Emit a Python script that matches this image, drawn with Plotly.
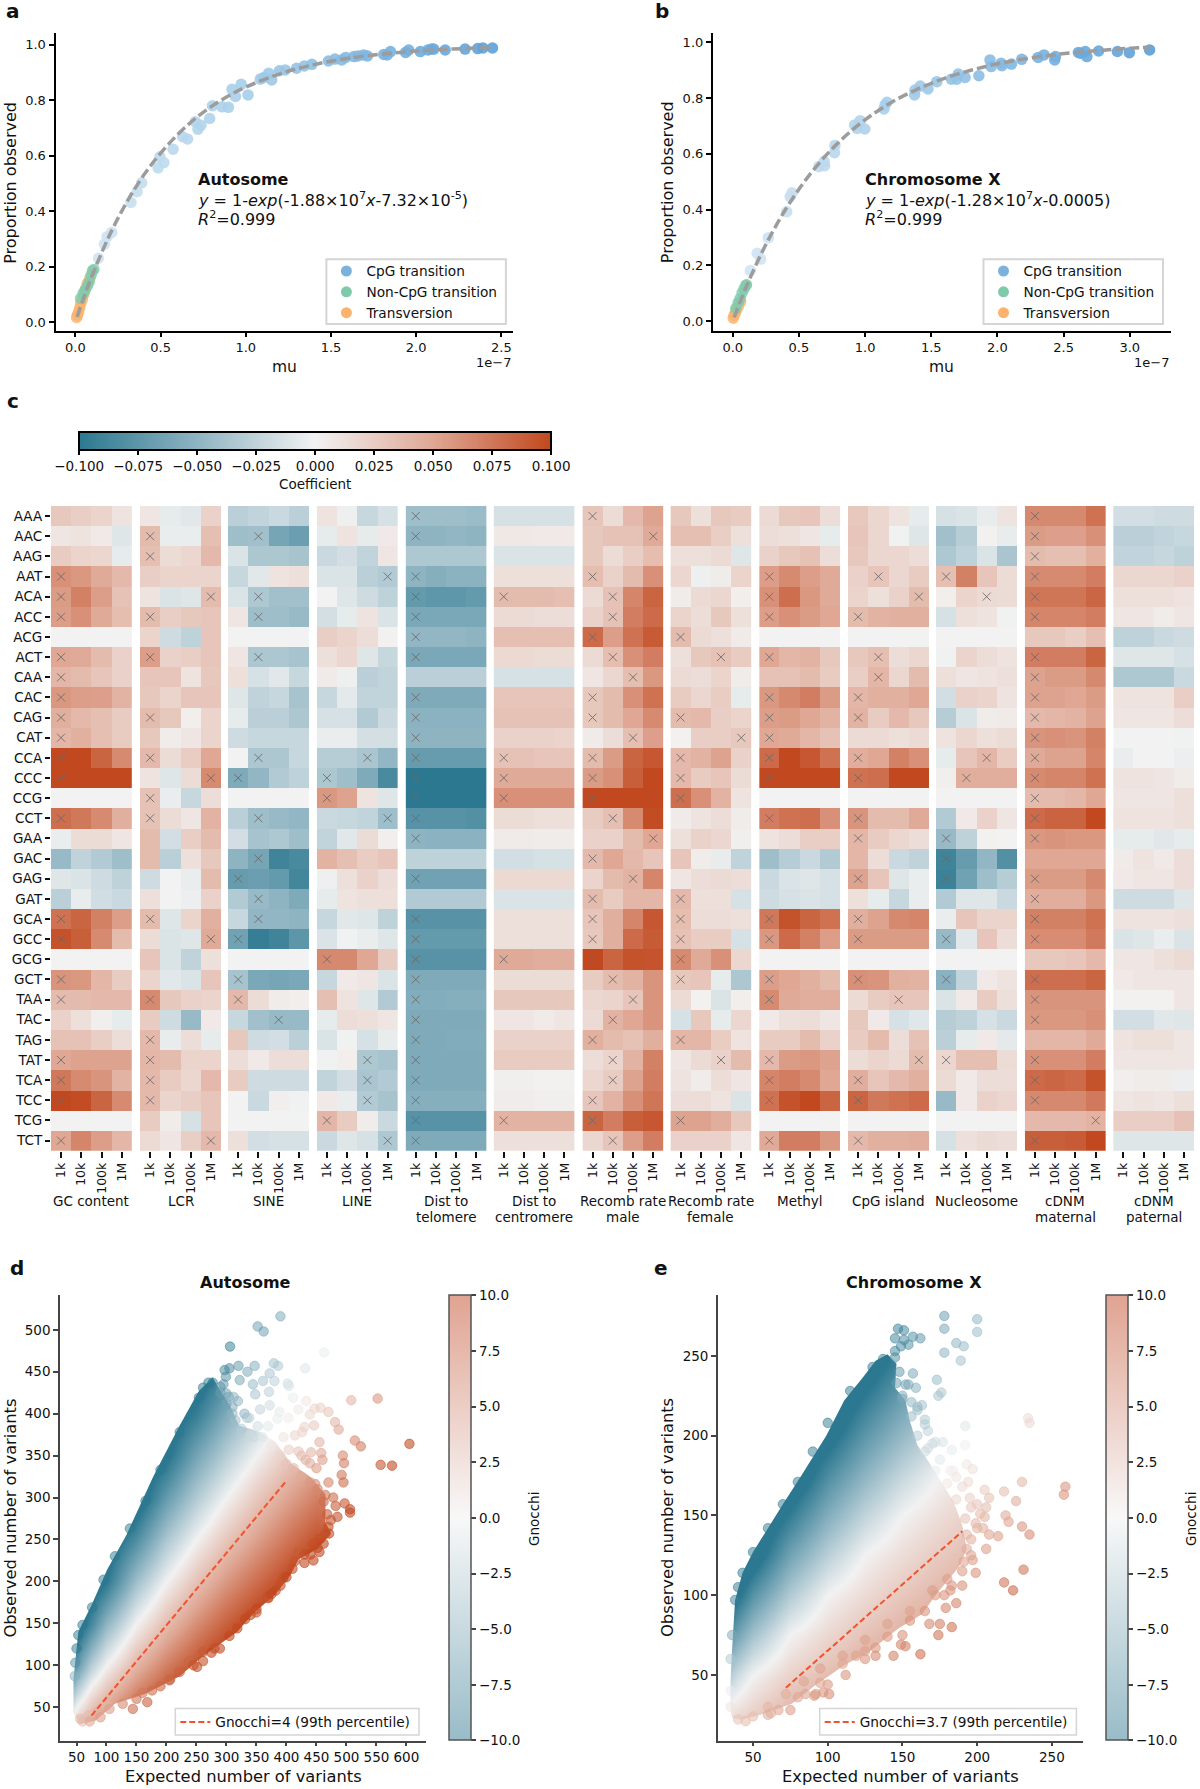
import plotly.graph_objects as go

W, H = 1200, 1789
FONT = "DejaVu Sans"
def fx(p): return p / W
def fy(p): return 1 - p / H

# ---------- panel a ----------
A_CPG_MU = [.135,.17,.186,.213,.326,.362,.389,.485,.519,.496,.573,.629,.658,.703,.719,.737,.788,.804,.86,.898,.919,.939,.973,1.013,1.085,1.107,1.134,1.152,1.197,1.231,1.298,1.343,1.388,1.485,1.523,1.563,1.586,1.635,1.658,1.691,1.714,1.81,1.83,1.849,1.938,1.956,2.024,2.069,2.091,2.103,2.17,2.287,2.361,2.392,2.448]
A_CPG_P = [.23,.281,.308,.323,.431,.47,.502,.556,.575,.596,.623,.668,.66,.722,.695,.71,.734,.78,.776,.774,.839,.813,.857,.819,.876,.882,.897,.873,.906,.909,.915,.923,.929,.941,.948,.945,.954,.957,.959,.963,.959,.965,.963,.975,.972,.981,.975,.981,.984,.984,.981,.984,.986,.988,.988]
A_NON_MU = [.03,.045,.056,.07,.081,.092,.108,.1]
A_NON_P = [.085,.103,.115,.13,.145,.169,.19,.185]
A_TV_MU = [.007,.012,.018,.025,.03,.04,.05,.06,.07,.085]
A_TV_P = [.017,.025,.035,.05,.065,.08,.1,.12,.14,.158]
A_FIT_MU = [.01,.05,.1,.2,.3,.4,.5,.6,.7,.8,.9,1.0,1.2,1.4,1.6,1.8,2.0,2.2,2.45]
A_FIT_P = [.019,.09,.171,.313,.431,.529,.609,.676,.732,.778,.816,.847,.895,.928,.951,.966,.977,.984,.990]

# ---------- panel b ----------
B_CPG_MU = [.133,.185,.211,.269,.408,.434,.448,.651,.694,.691,.769,.772,.92,.94,.963,.998,1.143,1.151,1.166,1.377,1.374,1.417,1.475,1.542,1.652,1.692,1.704,1.756,1.86,1.944,1.953,2.028,2.034,2.106,2.184,2.308,2.352,2.433,2.439,2.612,2.627,2.664,2.676,2.765,2.907,2.997,3.15]
B_CPG_P = [.181,.243,.222,.299,.392,.446,.46,.554,.557,.572,.604,.63,.703,.691,.719,.689,.761,.775,.785,.829,.811,.843,.833,.859,.868,.868,.886,.874,.88,.937,.913,.925,.916,.922,.939,.946,.955,.937,.949,.964,.961,.967,.949,.969,.967,.963,.973]
B_NON_MU = [.023,.04,.055,.07,.085,.1,.104]
B_NON_P = [.045,.065,.08,.1,.115,.128,.13]
B_TV_MU = [.004,.01,.02,.03,.045,.06]
B_TV_P = [.01,.02,.03,.04,.055,.07]
B_FIT_MU = [.01,.1,.2,.3,.4,.5,.6,.7,.8,.9,1.0,1.2,1.4,1.6,1.8,2.0,2.2,2.4,2.6,2.8,3.0,3.15]
B_FIT_P = [.013,.12,.226,.319,.401,.473,.536,.592,.641,.684,.722,.785,.833,.871,.9,.923,.94,.954,.964,.972,.979,.982]

# ---------- panel c (coefficients in units of 0.001) ----------
CONTEXTS = "AAA AAC AAG AAT ACA ACC ACG ACT CAA CAC CAG CAT CCA CCC CCG CCT GAA GAC GAG GAT GCA GCC GCG GCT TAA TAC TAG TAT TCA TCC TCG TCT".split()
SCALES = ["1k", "10k", "100k", "1M"]
GROUP_NAMES = [["GC content"],["LCR"],["SINE"],["LINE"],["Dist to","telomere"],["Dist to","centromere"],["Recomb rate","male"],["Recomb rate","female"],["Methyl"],["CpG island"],["Nucleosome"],["cDNM","maternal"],["cDNM","paternal"]]

GC_CONTENT = [[28,24,20,10],[8,10,6,-10],[26,20,18,-6],[62,58,48,38],[56,70,55,32],[55,62,48,35],[0,0,0,0],[50,48,36,22],[40,36,30,22],[58,55,54,42],[45,38,34,26],[40,44,34,26],[100,100,85,65],[100,100,100,100],[0,0,0,0],[80,75,65,45],[-4,15,15,8],[-45,-25,-32,-42],[-10,-12,-18,-26],[-28,-5,-17,-20],[78,85,70,55],[95,88,65,36],[0,0,0,0],[60,58,40,26],[36,36,38,38],[22,12,2,-6],[32,32,24,14],[50,52,52,52],[75,65,60,42],[100,98,85,65],[0,0,0,0],[50,68,55,40]]
LCR = [[8,-6,-8,22],[36,-4,-4,34],[34,15,18,38],[24,20,20,20],[10,-12,-10,36],[36,24,28,30],[20,-18,-26,30],[55,22,24,30],[30,30,10,28],[28,20,30,30],[36,28,3,20],[28,4,8,20],[38,15,25,50],[10,-10,15,65],[32,-4,-22,14],[32,15,8,42],[36,-16,24,36],[36,-28,12,28],[-18,0,-4,36],[12,0,-3,22],[36,-10,20,44],[15,-12,-10,48],[30,-12,-25,12],[20,-8,-12,30],[65,28,22,20],[26,-18,-45,6],[38,-5,14,-6],[40,36,20,20],[38,26,18,38],[38,20,24,30],[26,4,-14,30],[16,8,24,38]]
SINE = [[-28,-24,-20,-28],[-42,-40,-62,-68],[-12,-35,-35,-38],[-22,-8,10,12],[-12,-34,-40,-40],[8,-42,-42,-45],[0,0,0,0],[8,-35,-35,-38],[12,-14,-8,-22],[-10,-25,-22,-38],[-6,-28,-28,-35],[-18,-22,-22,-22],[0,-35,-35,-22],[-58,-48,-32,-26],[0,0,0,0],[-28,-42,-45,-48],[-16,-38,-34,-42],[-50,-62,-90,-85],[-70,-68,-72,-88],[-32,-45,-50,-58],[-22,-48,-48,-50],[-65,-95,-90,-75],[0,0,0,0],[-38,-60,-62,-60],[38,15,4,3],[-22,-40,-45,-45],[28,-18,-16,-28],[14,6,14,14],[26,-18,-18,-18],[0,-20,2,-1],[0,0,0,0],[12,-16,-14,-14]]
LINE = [[10,-2,-22,-14],[-6,10,-6,6],[-20,-16,-24,8],[-12,-12,-28,-32],[0,-10,-18,-26],[-15,-6,10,-12],[24,20,14,1],[12,18,-10,-22],[5,-2,-28,-24],[-22,-7,-24,-24],[-14,-14,-32,-20],[-4,-4,-15,-15],[-30,-30,-36,-48],[-35,-42,-58,-85],[58,52,10,-10],[-20,-22,-24,-42],[-24,-8,15,3],[42,34,25,30],[-2,12,22,14],[-6,10,12,12],[-22,-8,-10,-26],[-12,-1,-4,-10],[66,66,50,26],[-22,6,8,-12],[34,10,-10,-32],[-6,14,12,8],[-12,-1,-14,-5],[-1,3,-34,-38],[-24,-16,-36,-32],[6,-4,-32,-38],[40,26,4,-20],[-20,-10,-14,-34]]
DIST_TELOMERE = [[-42,-42,-42,-44],[-50,-50,-48,-50],[-34,-34,-34,-34],[-50,-54,-52,-52],[-72,-74,-74,-72],[-60,-60,-60,-60],[-48,-48,-48,-50],[-60,-60,-60,-60],[-28,-28,-28,-28],[-58,-58,-58,-58],[-52,-52,-52,-52],[-50,-50,-50,-50],[-70,-70,-70,-70],[-100,-100,-100,-100],[-100,-100,-100,-100],[-78,-78,-78,-80],[-50,-52,-52,-52],[-26,-26,-26,-26],[-65,-65,-65,-65],[-32,-32,-32,-32],[-78,-78,-78,-78],[-72,-72,-72,-72],[-78,-78,-78,-78],[-58,-58,-58,-58],[-56,-56,-54,-54],[-58,-58,-58,-58],[-58,-58,-57,-57],[-58,-58,-58,-58],[-58,-58,-58,-58],[-54,-54,-54,-54],[-78,-78,-78,-78],[-58,-58,-58,-58]]
DIST_CENTROMERE = [[-14,-14,-14,-14],[7,7,6,6],[-12,-12,-12,-12],[12,12,12,12],[36,36,36,34],[16,16,14,14],[34,34,34,34],[17,17,15,15],[-14,-14,-14,-14],[30,30,30,30],[32,32,32,32],[22,22,22,20],[32,32,30,30],[48,48,48,48],[62,62,62,62],[15,15,13,13],[5,5,4,4],[-16,-16,-14,-14],[17,17,17,17],[-12,-12,-12,-12],[12,12,12,12],[12,12,12,12],[48,48,46,46],[15,15,15,15],[28,28,28,28],[8,8,5,8],[22,22,22,22],[26,26,26,26],[2,2,1,1],[4,4,2,2],[42,42,42,42],[12,12,12,12]]
RECOMB_MALE = [[30,15,38,52],[28,32,32,48],[28,15,24,35],[35,22,36,62],[16,32,68,85],[22,32,72,82],[82,55,78,90],[16,35,62,72],[8,18,35,58],[28,36,62,78],[28,36,50,65],[5,14,34,54],[36,56,85,92],[56,62,88,100],[100,100,100,100],[26,34,65,98],[22,22,36,50],[38,50,38,30],[20,36,42,68],[36,26,40,40],[30,45,68,92],[28,45,82,90],[100,85,95,94],[26,36,42,60],[18,20,30,60],[16,42,50,60],[44,36,32,45],[14,20,42,70],[18,26,52,72],[30,42,62,76],[85,72,88,92],[18,30,55,72]]
RECOMB_FEMALE = [[28,12,28,26],[34,34,24,12],[12,12,16,-10],[18,-2,4,20],[4,16,18,3],[20,14,28,12],[36,16,12,5],[12,28,32,26],[16,14,20,4],[26,18,25,-6],[36,38,24,20],[1,24,24,28],[38,42,52,22],[38,26,30,15],[80,62,42,10],[5,10,14,4],[12,22,18,2],[30,4,-5,-25],[8,14,16,14],[38,12,12,-14],[35,14,14,12],[32,25,25,-14],[65,48,62,18],[28,30,-6,-35],[16,1,-12,3],[-14,28,-6,18],[40,40,25,10],[8,16,22,36],[10,4,14,8],[14,14,10,-12],[52,52,46,28],[22,22,22,8]]
METHYL = [[16,28,30,14],[14,12,8,-6],[22,28,32,14],[55,65,55,48],[62,80,58,48],[55,62,56,50],[0,0,0,0],[50,40,42,28],[32,32,36,26],[58,66,72,56],[55,56,50,42],[50,48,40,32],[82,100,92,78],[100,100,100,100],[0,0,0,0],[72,78,80,62],[10,14,24,24],[-42,-30,-20,-32],[-20,-12,-10,-14],[-18,-14,-12,-14],[75,95,85,78],[58,82,70,55],[0,0,0,0],[55,50,44,36],[65,48,46,46],[6,12,14,8],[26,26,36,22],[38,56,58,52],[68,72,65,50],[78,95,100,85],[0,0,0,0],[48,72,72,58]]
CPG_ISLAND = [[28,18,10,-6],[30,18,-1,-10],[28,18,18,14],[22,30,18,26],[20,12,22,36],[36,42,44,44],[0,0,0,0],[28,34,14,18],[24,40,18,36],[40,44,44,50],[42,26,38,28],[16,16,12,16],[46,50,70,62],[78,80,100,100],[0,0,0,0],[60,36,36,48],[40,26,18,14],[40,14,-20,-25],[52,30,-10,-4],[12,-6,-22,-4],[45,52,66,68],[56,56,56,56],[0,0,0,0],[62,60,44,42],[16,26,30,30],[28,6,-14,-9],[26,36,14,32],[15,20,16,36],[46,30,38,44],[85,75,78,82],[0,0,0,0],[38,44,44,46]]
NUCLEOSOME = [[-14,-12,-5,10],[-40,-30,1,-5],[-34,-26,-12,-36],[34,70,30,15],[3,20,16,15],[-14,12,10,-1],[0,0,0,0],[-1,20,14,10],[12,8,10,12],[-16,22,20,10],[-30,-12,4,5],[10,18,12,15],[-6,30,40,25],[2,46,46,46],[0,0,0,0],[-32,6,22,8],[-45,-26,1,0],[-90,-70,-48,-80],[-92,-65,-42,-30],[-32,-10,-10,-20],[-4,30,20,20],[-45,-8,30,14],[0,0,0,0],[-52,-24,6,10],[-12,6,26,12],[-30,-26,-14,-20],[-28,-6,6,-7],[18,34,34,15],[16,6,14,14],[-45,6,22,18],[0,0,0,0],[-14,12,16,14]]
CDNM_MATERNAL = [[66,66,66,78],[56,54,54,62],[36,34,34,44],[65,65,65,72],[76,76,76,84],[68,68,68,72],[28,28,24,34],[72,72,72,85],[52,56,56,66],[52,52,50,56],[38,40,42,52],[60,62,60,70],[48,52,52,68],[65,68,68,78],[36,36,40,50],[82,86,86,100],[58,60,58,58],[50,50,50,50],[56,56,56,66],[46,46,46,58],[70,70,70,78],[64,64,64,74],[28,28,30,38],[80,80,80,85],[60,60,60,60],[58,58,58,62],[40,40,40,48],[62,62,62,72],[82,84,82,95],[66,66,66,74],[38,38,38,42],[88,88,90,100]]
CDNM_PATERNAL = [[-16,-16,-18,-18],[-28,-28,-24,-22],[-24,-24,-22,-26],[18,18,18,22],[12,12,12,10],[8,8,4,8],[-26,-26,-20,-18],[-10,-10,-10,-14],[-34,-34,-34,-20],[10,10,10,24],[8,8,8,14],[0,0,0,-1],[-4,0,0,-3],[10,10,8,4],[8,8,8,12],[10,10,10,12],[-6,-6,-8,-6],[5,10,6,14],[6,8,8,14],[-18,-18,-18,-10],[10,10,10,12],[-12,-10,-4,-12],[8,8,12,16],[6,8,8,8],[1,1,1,8],[-16,-16,-8,-10],[10,12,12,8],[8,8,8,8],[2,4,4,-3],[8,10,8,12],[24,24,24,32],[-10,-10,-10,-10]]

GROUP_VALUES = [GC_CONTENT, LCR, SINE, LINE, DIST_TELOMERE, DIST_CENTROMERE, RECOMB_MALE, RECOMB_FEMALE, METHYL, CPG_ISLAND, NUCLEOSOME, CDNM_MATERNAL, CDNM_PATERNAL]

# significance marks per group: scale index -> contexts
GROUP_MARKS = [
 {0:"AAT ACA ACC ACT CAA CAC CAG CAT CCA CCC CCT GCA GCC GCT TAA TAT TCA TCC TCT"},
 {0:"AAC AAG ACC ACT CAG CCA CCG CCT GCA TAA TAG TAT TCA TCC", 3:"ACA CCC GCC TCT"},
 {0:"CCC GAG GCC GCT TAA", 1:"AAC ACA ACC ACT CCA CCT GAC GAT GCA", 2:"TAC"},
 {0:"CCC CCG GCG TCG", 2:"CCA TAT TCA TCC", 3:"AAT CCT TCT"},
 {0:"AAA AAC AAT ACA ACC ACG ACT CAC CAG CAT CCA CCC CCG CCT GAA GAG GCA GCC GCG GCT TAA TAC TAG TAT TCA TCC TCG TCT"},
 {0:"ACA CCA CCC CCG GCG TCG"},
 {0:"AAA AAT ACG CAC CAG CCA CCC CCG GAC GAT GCA GCC GCG TAG TCC TCG", 1:"ACA ACC ACT CCT GCT TAC TAT TCA TCT", 2:"CAA CAT GAG TAA", 3:"AAC GAA"},
 {0:"ACG CAG CCA CCC CCG GAT GCA GCC GCG GCT TAG TCG", 2:"ACT TAT", 3:"CAT"},
 {0:"AAT ACA ACC ACT CAC CAG CAT CCA CCC CCT GCA GCC GCT TAA TAT TCA TCC TCT"},
 {0:"ACC CAC CAG CCA CCC CCT GAA GAG GCA GCC GCT TCA TCC TCT", 1:"AAT ACT CAA", 2:"TAA", 3:"ACA TAT"},
 {0:"AAT GAA GAC GAG GCC GCT TAT", 1:"CCC", 2:"ACA CCA"},
 {0:"AAA AAC AAG AAT ACA ACC ACT CAA CAC CAG CAT CCA CCC CCG CCT GAA GAG GAT GCA GCC GCT TAA TAC TAT TCA TCC TCT", 3:"TCG"},
 {},
]
GROUP_LEFT = [50.9,140,228,316.8,405.6,493.6,582.4,670.4,759.2,848,936,1024.8,1113.2]

# ---------- panel d ----------
D_GRID_E = [30,50,75,100,150,200,250,300,350,400,450]
D_GRID_O = [25,50,75,100,150,200,250,300,350,400,450]
D_GRID_G = [
 [0.9,3.5,5.8,7.5,10.2,10.6,11.5,12,12,12,12],
 [-3.7,0,2.9,5,8.2,10.6,11,12,12,12,12],
 [-8.2,-3.5,0,2.5,6.1,8.8,11,12,12,12,12],
 [-12,-7.1,-2.9,0,4.1,7.1,9.5,11.5,12,12,12],
 [-12,-12,-8.7,-5,0,3.5,6.3,8.7,10.7,12,12],
 [-12,-12,-12,-10,-4.1,0,3.2,5.8,8,10,11.8],
 [-12,-12,-12,-12,-8.2,-3.5,0,2.9,5.3,7.5,9.4],
 [-12,-12,-12,-12,-12,-7.1,-3.2,0,2.7,5,7],
 [-12,-12,-12,-12,-12,-10.6,-6.3,-2.9,0,2.5,4.7],
 [-12,-12,-12,-12,-12,-12,-9.5,-5.8,-2.7,0,2.4],
 [-12,-12,-12,-12,-12,-12,-12,-8.7,-5.3,-2.5,0],
]
D_EDGE_E = [45,53,76,101,133,178,222,254,277,287,305,321,356,382,407,439,465,465,474,452,420,407,382,344,318,261,222,165,114,82,56,44,45]
D_EDGE_O = [83,140,173,214,255,325,386,427,443,431,411,386,378,366,341,325,304,271,257,239,226,208,185,161,140,111,87,66,54,34,30,44,48]
D_E = [390,352,362,306,297,305,320,347,335,379,386,372,299,322,344,361,380,371,348,402,404,431,463,411,319,304,372,356,334,388,385,403,315,369,
       433,420,447,457,470,508,552,439,481,487,430,446,426,414,455,514,524,605,557,576,441,458,460,425,494,496,439,492,495,404,497,506,506,482,485,474,465,448,471,465,457,452,
       420,414,395,382,369,350,331,318,289,280,261,261,251,238,222,206,190,176,168,160,144,127,
       47,48,50,53,60,76,95,114,139,165,190,222,254,277,270,261,290,300,310,330,345,
       60,56,70,85,100,350,370,390,410,430,445,
       290,300,310,325,340,360,375,390,400,412,425,440,452,462,468,470,455,440,430,400,375,340,305,275,245,205,150,105,90,72,
       295,312,338,352,395,420,432,450,470,478,462,445]
D_O = [516,504,498,480,452,454,457,457,450,460,457,448,444,440,435,439,439,426,423,436,433,454,473,419,415,420,410,405,395,402,394,395,392,385,
       415,405,406,407,402,416,418,399,390,381,384,386,378,374,366,368,361,364,339,338,354,353,345,350,350,341,341,327,318,357,293,286,282,290,277,273,303,316,257,257,251,240,
       234,224,204,189,181,167,155,144,120,120,116,105,98,105,92,83,75,70,56,67,48,54,
       87,103,120,136,148,169,202,230,263,296,333,378,419,437,437,431,432,424,408,400,372,
       33,36,40,44,52,163,180,195,215,232,245,
       425,412,400,382,376,372,362,350,340,335,325,318,310,295,280,265,235,232,222,205,185,160,135,115,100,82,60,48,38,33,
       435,420,395,385,372,355,345,335,318,300,245,225]
D_G = [-6.4,-7,-7.2,-10,-9,-9,-7.6,-5.9,-6.3,-4.2,-3.6,-3.9,-8.4,-6.6,-4.9,-4.1,-3,-2.9,-4,-1.7,-1.4,-1.1,-.5,-.4,-5.4,-6.7,-2,-2.6,-3.3,-.7,-.4,.4,-4.2,-.8,
       .9,.7,1.9,2.3,3.1,4.1,5.7,1.9,4.1,4.8,2.2,2.8,2.3,2,4.2,6.4,7.1,9.8,9.2,9.9,4.1,4.9,5.4,3.6,6.5,7,4.6,7.4,8,2.4,9.1,9.8,10,8.7,9.4,9.2,7.5,6.2,9.9,9.6,9.7,10,
       9,9.3,9.6,9.9,9.8,10,10,10,10,9.6,9,9.6,9.6,8.5,8.7,8.5,8.3,8,8.6,7.4,8,6.5,
       -5.4,-8,-10,-11,-11,-10.7,-11,-11,-10.5,-10.2,-10.4,-10.5,-10.3,-9.6,-10,-10.5,-8,-7,-6,-5.5,-2,
       3.5,3.6,3.6,4.4,4,9.5,9.5,9.7,9.7,9.6,9.7,
       -7,-6.5,-5,-3.2,-2,-1,.7,2,3,3.8,4.8,5.7,6.7,8,8.9,9.7,10,10,10,10,10,10,10,10,9.5,8.5,7.5,5.5,5.5,4.8,
       -7.5,-5.3,-3,-1.8,1,3.2,4.2,5.5,6.7,8,10,10]
D_LINE_E = [75,400]
D_LINE_O = [40,320]

# ---------- panel e ----------
E_GRID_E = [30,40,50,75,100,125,150,175,200]
E_GRID_O = [15,25,50,75,100,125,150,175,200,225,250,275]
E_GRID_G = [
 [1.8,3,3.2,4.4,5.4,6,6.5,7,7.5],
 [.6,1.5,2.2,3.7,4.8,5.7,6,6.6,7],
 [-3.7,-1.6,0,1.9,3.2,4.3,5.2,5.8,6.4],
 [-8.2,-5.6,-3.5,0,1.6,2.9,3.9,4.8,5.6],
 [-12,-9.5,-7,-2.9,0,1.4,2.6,3.6,4.6],
 [-12,-12,-10.6,-5.8,-2.5,0,1.3,2.4,3.4],
 [-12,-12,-12,-8.7,-5,-2.2,0,1.2,2.2],
 [-12,-12,-12,-11.5,-7.5,-4.5,-2,0,1.1],
 [-12,-12,-12,-12,-10,-6.7,-4.1,-1.9,0],
 [-12,-12,-12,-12,-12,-8.9,-6.1,-3.8,-1.8],
 [-12,-12,-12,-12,-12,-11,-8.2,-5.7,-3.5],
 [-12,-12,-12,-12,-12,-12,-10,-7.6,-5.3],
]
E_EDGE_E = [35,36,38,43,50,60,70,83,99,111,124,132,140,146,145,152,155,160,168,178,184,190,193,188,173,163,147,127,111,91,76,55,42,36,35]
E_EDGE_O = [47,66,97,114,127,142,157,176,200,222,237,247,251,245,230,222,209,194,183,168,159,144,129,118,101,88,79,64,56,43,32,25,22,23,28]
E_E = [178,200,200,178,147,151,145,151,157,162,154,149,145,145,186,191,178,189,173,176,174,157,152,159,146,163,160,156,150,165,167,192,192,167,172,177,183,
       234,235,193,197,184,186,194,230,259,258,205,218,208,226,195,200,206,202,205,219,221,199,204,208,214,230,235,206,193,193,199,231,218,224,191,183,182,190,186,179,175,183,174,162,152,149,144,132,125,119,101,97,91,100,85,75,45,62,67,
       35,35,35,36,38,40,43,50,60,70,80,90,100,115,130,137,
       40,50,60,72,84,95,110,125,140,155,170,
       148,150,156,160,165,172,180,186,192,196,196,190,180,172,165,155,140,125,110,95,80,60,
       154,160,165,170,175,182,190,196,200,197,178,168,150,132,112,92]
E_O = [275,273,265,267,267,266,261,260,262,261,257,256,253,249,258,256,252,247,235,227,225,239,232,230,233,219,216,221,223,210,203,206,194,192,196,196,191,
       211,208,182,179,178,174,171,171,168,163,166,165,161,159,161,157,155,151,149,150,146,145,142,138,137,143,138,129,138,129,114,116,108,103,121,106,103,106,95,92,82,80,75,63,68,69,62,67,60,62,38,39,37,44,38,28,21,26,28,
       30,40,60,75,97,105,114,127,142,157,171,190,208,228,243,248,
       22,24,30,38,46,54,62,72,82,90,103,
       240,225,212,200,190,178,170,160,148,135,125,115,110,100,90,84,74,65,57,45,36,25,
       232,218,207,195,185,178,168,155,142,122,100,82,75,62,50,38]
E_G = [-7.3,-5.2,-4.6,-6.7,-9.9,-9.4,-9.5,-8.8,-8.5,-7.8,-8.5,-8.8,-9,-8.6,-5.3,-4.7,-5.6,-4.2,-4.7,-3.8,-3.9,-6.5,-6.5,-5.6,-7.2,-4.4,-4.4,-5.2,-6,-3.5,-2.8,-1,-.2,-1.9,-1.8,-1.4,-.6,
       1.5,1.8,.8,1.3,.4,.9,1.7,3.9,5.7,5.9,2.7,3.6,3.3,4.5,2.4,3,3.6,3.6,3.9,4.7,5,3.8,4.3,4.9,5.3,5.7,6.3,5.3,3.9,4.6,6,7.5,7.5,8.1,5,5.7,5.9,6.1,6.7,6.5,7,7.6,7.5,7.8,6.8,6.6,6.8,5.7,5.8,5.2,6.3,5.9,5.7,5.6,5.1,5.4,3.6,4.6,4.8,
       1,-.5,-3.5,-6,-9.5,-10,-10,-10,-10.5,-10.5,-10.5,-11,-11,-11,-10,-10,
       3,3.5,4,4.5,5,5.2,5.2,5.2,5.2,5.2,5.5,
       -7.6,-6.1,-4.5,-3.2,-1.9,-.5,.8,2,3.2,4.3,5,5.5,5.4,5.5,6,6,5.6,5.3,5,5,4.9,4.5,
       -6.3,-4.6,-3.3,-1.9,-.8,.3,1.6,3,4.1,5.3,5.9,6.5,6,6.3,5.8,5.6]
E_LINE_E = [72,190]
E_LINE_O = [42,140]

# ---------- styles ----------
COLORSCALE = [[0,'#2c7890'],[.25,'#8eb4c2'],[.5,'#f2f2f2'],[.75,'#dfa794'],[1,'#c1481f']]
BAR_LIGHT = [[0,'#98bcc8'],[.5,'#f8f8f8'],[1,'#e0a391']]
MARK_SCALE = [[0,'rgba(44,120,144,.5)'],[.25,'rgba(142,180,194,.5)'],[.5,'rgba(242,242,242,.5)'],[.75,'rgba(223,167,148,.6)'],[1,'rgba(193,72,31,.6)']]
CPG_SCALE = [[0,'#d6e7f4'],[.4,'#a5cde9'],[.7,'#7db5e0'],[1,'#5a9ed7']]
GREEN, ORANGE, LEG_BLUE = '#7fcaab', '#fbb26c', '#7ab2dc'
GRAY_FIT = '#9c9c9c'

traces = []
layout = dict(width=W, height=H, margin=dict(l=0, r=0, t=0, b=0), paper_bgcolor='white', plot_bgcolor='white',
              font=dict(family=FONT, size=13.5, color='#111'), showlegend=True, annotations=[], shapes=[])

def add_axes(n, left, right, top, bottom, xr, yr, spine=2, spcol='black', tick=13, **kw):
    sx = '' if n == 1 else str(n)
    ax = dict(domain=[fx(left), fx(right)], range=xr, anchor='y' + sx, showgrid=False, zeroline=False, showline=True,
              linewidth=spine, linecolor=spcol, ticks='outside', ticklen=4, tickwidth=1.5, tickcolor=spcol, tickfont=dict(size=tick))
    ay = dict(domain=[fy(bottom), fy(top)], range=yr, anchor='x' + sx, showgrid=False, zeroline=False, showline=True,
              linewidth=spine, linecolor=spcol, ticks='outside', ticklen=5, tickwidth=1.5, tickcolor=spcol, tickfont=dict(size=tick))
    ax.update(kw.get('x', {})); ay.update(kw.get('y', {}))
    layout['xaxis' + sx] = ax; layout['yaxis' + sx] = ay
    return 'x' + sx, 'y' + sx

def note(text, px, py, size=13.5, angle=0, anchor='center', **kw):
    layout['annotations'].append(dict(text=text, xref='paper', yref='paper', x=fx(px), y=fy(py), showarrow=False,
        xanchor=anchor, yanchor='middle', textangle=angle, font=dict(size=size, family=FONT, color='#111'), **kw))

def legend_box(legname, left, right, top, bottom, text_top, lw):
    layout['shapes'].append(dict(type='rect', xref='paper', yref='paper', x0=fx(left), x1=fx(right), y0=fy(bottom), y1=fy(top),
                                 line=dict(color='#d5d5d5', width=lw), fillcolor='rgba(255,255,255,.85)'))
    layout[legname] = dict(x=fx(left), y=fy(text_top), xanchor='left', yanchor='top', borderwidth=0,
                           bgcolor='rgba(0,0,0,0)', font=dict(size=13.7), itemwidth=30)

def mu_panel(n, left, right, xr, yr, xtv, cpg_x, cpg_y, non_x, non_y, tv_x, tv_y, fit_x, fit_y, legname, leg_left, leg_right, cmax):
    xa, ya = add_axes(n, left, right, 33.3, 330.7, xr, yr, x=dict(tickvals=xtv, tickformat='.1f'), y=dict(tickvals=[0,.2,.4,.6,.8,1.0], tickformat='.1f'))
    traces.append(go.Scatter(x=cpg_x, y=cpg_y, xaxis=xa, yaxis=ya, mode='markers', showlegend=False, hoverinfo='skip',
        marker=dict(size=11.5, color=cpg_x, colorscale=CPG_SCALE, cmin=0, cmax=cmax, opacity=.9)))
    traces.append(go.Scatter(x=tv_x, y=tv_y, xaxis=xa, yaxis=ya, mode='markers', showlegend=False, hoverinfo='skip',
        marker=dict(size=11.5, color=ORANGE, opacity=.8)))
    traces.append(go.Scatter(x=non_x, y=non_y, xaxis=xa, yaxis=ya, mode='markers', showlegend=False, hoverinfo='skip',
        marker=dict(size=11.5, color=GREEN, opacity=.8)))
    traces.append(go.Scatter(x=fit_x, y=fit_y, xaxis=xa, yaxis=ya, mode='lines', showlegend=False, hoverinfo='skip',
        line=dict(color=GRAY_FIT, width=3.5, dash='10px,4px', shape='spline')))
    for name, col in [('CpG transition', LEG_BLUE), ('Non-CpG transition', GREEN), ('Transversion', ORANGE)]:
        traces.append(go.Scatter(x=[None], y=[None], xaxis=xa, yaxis=ya, mode='markers', name=name, legend=legname,
                                 marker=dict(size=11, color=col)))
    legend_box(legname, leg_left, leg_right, 259.3, 324, 255.6, 2)

mu_panel(1, 55.5, 512.8, [-.117, 2.567], [-.031, 1.041], [0,.5,1,1.5,2,2.5], A_CPG_MU, A_CPG_P, A_NON_MU, A_NON_P, A_TV_MU, A_TV_P, A_FIT_MU, A_FIT_P, 'legend', 326.4, 505.9, 2.5)
mu_panel(2, 712.9, 1170.9, [-.15, 3.311], [-.035, 1.0325], [0,.5,1,1.5,2,2.5,3], B_CPG_MU, B_CPG_P, B_NON_MU, B_NON_P, B_TV_MU, B_TV_P, B_FIT_MU, B_FIT_P, 'legend2', 983.5, 1163, 3.15)

note('mu', 284, 366.7, 15.5); note('mu', 941.7, 366.7, 15.5)
note('1e−7', 493.7, 363, 13); note('1e−7', 1151, 363, 13)
note('Proportion observed', 10.3, 182.5, 16, angle=-90); note('Proportion observed', 667.7, 182.5, 16, angle=-90)
note('<b>Autosome</b>', 196, 180, 16, anchor='left')
note('<i>y</i> = 1-<i>exp</i>(-1.88×10<sup>7</sup><i>x</i>-7.32×10<sup>-5</sup>)', 196, 200, 16, anchor='left')
note('<i>R</i><sup>2</sup>=0.999', 196, 219, 16, anchor='left')
note('<b>Chromosome X</b>', 863, 180, 16, anchor='left')
note('<i>y</i> = 1-<i>exp</i>(-1.28×10<sup>7</sup><i>x</i>-0.0005)', 863, 200, 16, anchor='left')
note('<i>R</i><sup>2</sup>=0.999', 863, 219, 16, anchor='left')
for t, px, py in [('a', 12.6, 11), ('b', 662, 11), ('c', 12.5, 401), ('d', 17, 1268), ('e', 661, 1268)]:
    note('<b>%s</b>' % t, px, py, 20)

# panel c
for i, vals in enumerate(GROUP_VALUES):
    n = i + 3
    left = GROUP_LEFT[i]
    xa, ya = add_axes(n, left, left + 81, 506, 1150.7, [-.5, 3.5], [31.5, -.5], spine=0, tick=13,
        x=dict(showline=False, tickvals=[0,1,2,3], ticktext=SCALES, tickangle=-90, tickwidth=2, ticklen=6, tickcolor='#111', tickfont=dict(size=12.5)),
        y=dict(showline=False, tickvals=list(range(32)), ticktext=CONTEXTS, tickwidth=2, ticklen=5, tickcolor='#111', tickfont=dict(size=13.5)) if i == 0 else dict(showline=False, ticks='', showticklabels=False))
    hm = dict(z=[[v / 1000 for v in row] for row in vals], x=[0,1,2,3], y=list(range(32)), xaxis=xa, yaxis=ya, zmin=-.1, zmax=.1,
              colorscale=COLORSCALE, showscale=False, hoverinfo='skip', xgap=0, ygap=0)
    if i == 0:
        hm.update(showscale=True, colorbar=dict(orientation='h', lenmode='pixels', len=471.8, thicknessmode='pixels', thickness=18.3,
            x=fx(79.2), xanchor='left', y=fy(431.7), yanchor='top', xpad=0, ypad=0, outlinecolor='black', outlinewidth=2,
            tick0=-.1, dtick=.025, tickformat='.3f', ticks='outside', ticklen=4, tickwidth=1.5, tickcolor='black', tickfont=dict(size=13.5),
            title=dict(text='Coefficient', side='bottom', font=dict(size=13.5))))
    traces.append(go.Heatmap(**hm))
    mx, my = [], []
    for col, rows in GROUP_MARKS[i].items():
        for r in rows.split():
            mx.append(col); my.append(CONTEXTS.index(r))
    if mx:
        traces.append(go.Scatter(x=mx, y=my, xaxis=xa, yaxis=ya, mode='markers', showlegend=False, hoverinfo='skip',
            marker=dict(symbol='x-thin', size=8, line=dict(width=1, color='rgba(105,105,105,.85)'))))
    for k, line in enumerate(GROUP_NAMES[i]):
        note(line, left + 40.5, 1201 + 16 * k, 13.5)

# panels d, e
def gnocchi_panel(n, left, right, xr, yr, xtv, ytv, gx, gy, gz, zlim, ex, ey, px, py, pg, lx, ly, lname, legname, leg_left, leg_right, cbx, title, tx, ylx, xlx, glx):
    xa, ya = add_axes(n, left, right, 1295.4, 1740.5, xr, yr, spine=1.5, spcol='#444', tick=13.5, x=dict(tickvals=xtv), y=dict(tickvals=ytv))
    traces.append(go.Heatmap(x=gx, y=gy, z=gz, xaxis=xa, yaxis=ya, zmin=-zlim, zmax=zlim, zsmooth='best', colorscale=COLORSCALE, showscale=False, hoverinfo='skip'))
    mask_x = [xr[0], xr[1], xr[1], xr[0], xr[0]] + ex + [ex[0], xr[0]]
    mask_y = [yr[0], yr[0], yr[1], yr[1], yr[0]] + ey + [ey[0], yr[0]]
    traces.append(go.Scatter(x=mask_x, y=mask_y, xaxis=xa, yaxis=ya, mode='none', fill='toself', fillcolor='white', showlegend=False, hoverinfo='skip'))
    traces.append(go.Scatter(x=px, y=py, xaxis=xa, yaxis=ya, mode='markers', showlegend=False, hoverinfo='skip',
        marker=dict(size=9.5, color=pg, colorscale=MARK_SCALE, cmin=-10, cmax=10,
                    line=dict(width=1, color=pg, colorscale=MARK_SCALE, cmin=-10, cmax=10))))
    traces.append(go.Scatter(x=lx, y=ly, xaxis=xa, yaxis=ya, mode='lines', name=lname, legend=legname, hoverinfo='skip',
        line=dict(color='#f4512c', width=2, dash='6px,3px')))
    traces.append(go.Scatter(x=[None, None], y=[None, None], xaxis=xa, yaxis=ya, mode='markers', showlegend=False, hoverinfo='skip',
        marker=dict(color=[-10, 10], colorscale=BAR_LIGHT, cmin=-10, cmax=10, showscale=True,
            colorbar=dict(lenmode='pixels', len=445.1, thicknessmode='pixels', thickness=21.8, x=fx(cbx), xanchor='left', y=fy(1295.4), yanchor='top',
                          xpad=0, ypad=0, outlinecolor='#555', outlinewidth=1.5, tick0=-10, dtick=2.5, tickformat='.1f', ticks='outside',
                          ticklen=5, tickwidth=1.5, tickcolor='#444', tickfont=dict(size=13.5)))))
    legend_box(legname, leg_left, leg_right, 1708.5, 1735, 1706.5, 1.5)
    note('<b>%s</b>' % title, tx, 1282.7, 16)
    note('Observed number of variants', ylx, 1518, 16.3, angle=-90)
    note('Expected number of variants', xlx, 1776.6, 16.3)
    note('Gnocchi', glx, 1519, 13.5, angle=-90)

gnocchi_panel(17, 60, 425.5, [22.5, 631.8], [10.3, 541], list(range(50, 601, 50)), list(range(50, 501, 50)),
    D_GRID_E, D_GRID_O, D_GRID_G, 10, D_EDGE_E, D_EDGE_O, D_E, D_O, D_G, D_LINE_E, D_LINE_O, 'Gnocchi=4 (99th percentile)', 'legend3', 175.3, 419, 448.9, 'Autosome', 246, 9.6, 243, 534)
gnocchi_panel(18, 717.9, 1083.3, [26.5, 271], [8.9, 287.9], [50,100,150,200,250], [50,100,150,200,250],
    E_GRID_E, E_GRID_O, E_GRID_G, 9, E_EDGE_E, E_EDGE_O, E_E, E_O, E_G, E_LINE_E, E_LINE_O, 'Gnocchi=3.7 (99th percentile)', 'legend4', 819.7, 1076.4, 1106.3, 'Chromosome X', 913.8, 667, 900.4, 1191)

fig = go.Figure(data=traces, layout=layout)
fig.write_html("out.html", config={'displayModeBar': False}, post_script="document.body.style.margin='0';document.body.style.padding='0';")
